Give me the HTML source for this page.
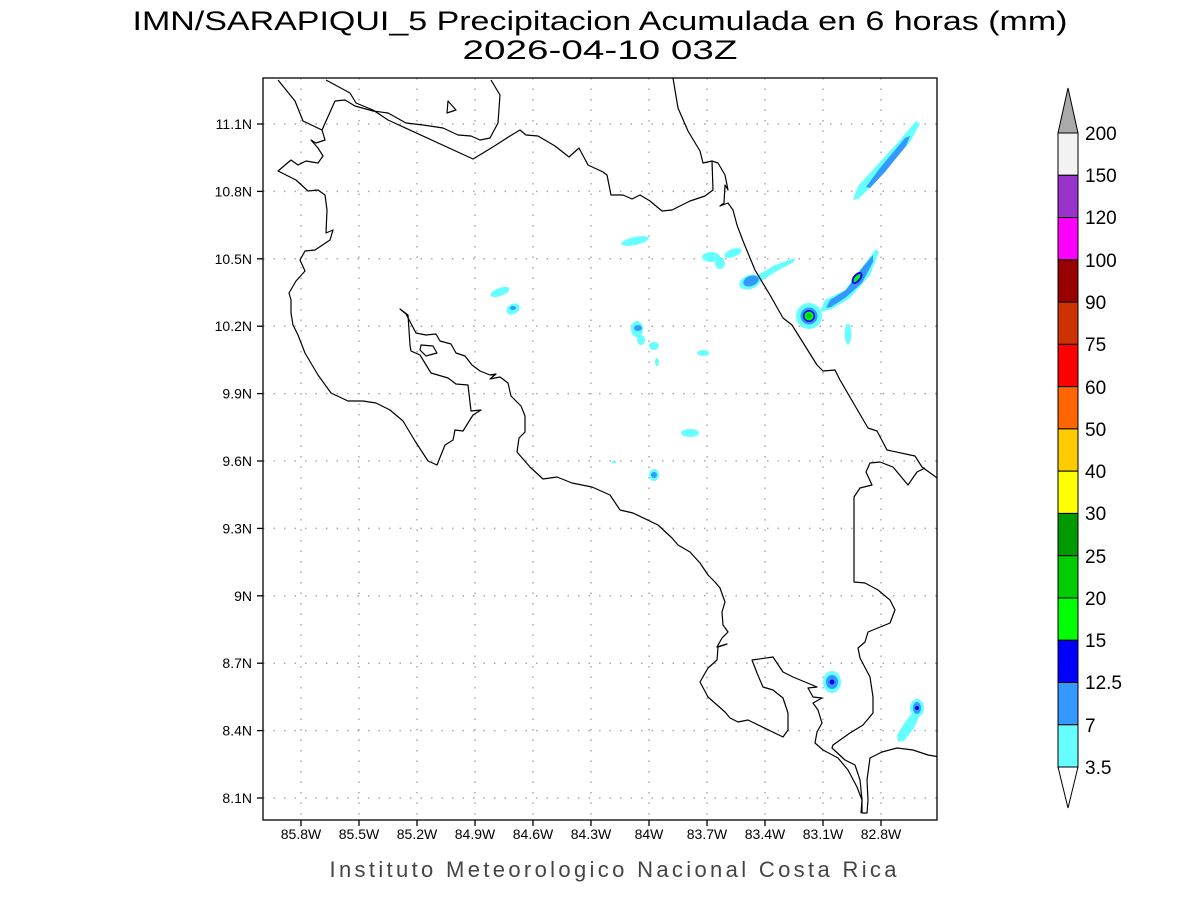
<!DOCTYPE html>
<html><head><meta charset="utf-8"><style>html,body{margin:0;padding:0;background:#fff}svg{display:block}</style></head>
<body>
<svg width="1200" height="900" viewBox="0 0 1200 900" xmlns="http://www.w3.org/2000/svg" font-family="Liberation Sans, sans-serif">
<rect width="1200" height="900" fill="#fff"/>
<text x="600" y="30" font-size="27" text-anchor="middle" textLength="935" lengthAdjust="spacingAndGlyphs" fill="#000">IMN/SARAPIQUI_5 Precipitacion Acumulada en 6 horas (mm)</text>
<text x="600" y="59" font-size="27" text-anchor="middle" textLength="275" lengthAdjust="spacingAndGlyphs" fill="#000">2026-04-10 03Z</text>
<defs><clipPath id="c"><rect x="263" y="78" width="674" height="742"/></clipPath></defs>
<g stroke="#aaa" stroke-width="1.5" stroke-dasharray="1.5,9" id="grid">
<line x1="301" y1="78" x2="301" y2="820"/><line x1="359" y1="78" x2="359" y2="820"/><line x1="417" y1="78" x2="417" y2="820"/><line x1="475" y1="78" x2="475" y2="820"/><line x1="533" y1="78" x2="533" y2="820"/><line x1="591" y1="78" x2="591" y2="820"/><line x1="649" y1="78" x2="649" y2="820"/><line x1="707" y1="78" x2="707" y2="820"/><line x1="765" y1="78" x2="765" y2="820"/><line x1="823" y1="78" x2="823" y2="820"/><line x1="881" y1="78" x2="881" y2="820"/>
<line x1="263" y1="124" x2="937" y2="124"/><line x1="263" y1="191.4" x2="937" y2="191.4"/><line x1="263" y1="258.8" x2="937" y2="258.8"/><line x1="263" y1="326.2" x2="937" y2="326.2"/><line x1="263" y1="393.6" x2="937" y2="393.6"/><line x1="263" y1="461" x2="937" y2="461"/><line x1="263" y1="528.4" x2="937" y2="528.4"/><line x1="263" y1="595.8" x2="937" y2="595.8"/><line x1="263" y1="663.2" x2="937" y2="663.2"/><line x1="263" y1="730.6" x2="937" y2="730.6"/><line x1="263" y1="798" x2="937" y2="798"/>
</g>
<g clip-path="url(#c)">
<!-- precipitation -->
<g fill="#66ffff">
<polygon points="853,200 858,186 900,140 916,121 920,124 910,142 870,188 858,199"/>
<polygon points="820,312 825,300 845,290 860,270 876,249 879,252 870,275 850,298 832,309"/>
<circle cx="809" cy="316" r="13"/>
<ellipse cx="848" cy="334" rx="3.5" ry="10"/>
<ellipse cx="635" cy="241" rx="14" ry="4" transform="rotate(-12 635 241)"/>
<ellipse cx="711" cy="257" rx="9" ry="5"/><ellipse cx="720" cy="263" rx="5" ry="6"/><ellipse cx="733" cy="253" rx="9" ry="4" transform="rotate(-20 733 253)"/>
<ellipse cx="750" cy="282" rx="11" ry="7" transform="rotate(-20 750 282)"/>
<polygon points="758,275 775,265 795,258 794,262 775,272 760,282"/>
<ellipse cx="637" cy="329" rx="6" ry="8"/><ellipse cx="641" cy="340" rx="4" ry="5"/>
<ellipse cx="654" cy="346" rx="5" ry="4"/><ellipse cx="657" cy="362" rx="2" ry="4"/>
<ellipse cx="703" cy="353" rx="6" ry="3"/><ellipse cx="690" cy="433" rx="9" ry="4"/>
<ellipse cx="500" cy="292" rx="10" ry="4" transform="rotate(-20 500 292)"/>
<ellipse cx="513" cy="309" rx="7" ry="5" transform="rotate(-30 513 309)"/>
<ellipse cx="654" cy="475" rx="5" ry="6"/><ellipse cx="614" cy="462" rx="2" ry="1.5"/>
<ellipse cx="832" cy="682" rx="9" ry="11"/>
<ellipse cx="917" cy="708" rx="7" ry="9"/>
<polygon points="898,742 897,735 905,722 913,712 920,715 914,728 904,741"/>
</g>
<g fill="#3399ff">
<polygon points="866,187 880,168 905,138 910,136 906,146 885,172 870,188"/>
<polygon points="826,308 830,300 846,290 862,268 873,255 873,262 862,283 845,298 831,307"/>
<circle cx="809" cy="316" r="8.5"/>
<ellipse cx="751" cy="281" rx="8" ry="5" transform="rotate(-20 751 281)"/>
<ellipse cx="638" cy="328" rx="4" ry="3"/><ellipse cx="513" cy="308" rx="3" ry="2"/>
<ellipse cx="654" cy="475" rx="3" ry="3"/>
<ellipse cx="832" cy="682" rx="6" ry="7"/><ellipse cx="917" cy="708" rx="4" ry="6"/>
</g>
<g fill="#00f"><ellipse cx="857" cy="278" rx="4" ry="7" transform="rotate(40 857 278)"/><circle cx="809" cy="316" r="6"/><circle cx="832" cy="682" r="2.5"/><circle cx="917" cy="708" r="2"/></g>
<g fill="#00ff00"><ellipse cx="857" cy="278" rx="2" ry="5" transform="rotate(40 857 278)"/><circle cx="809" cy="316" r="4.5"/></g>
<circle cx="809" cy="316" r="2.5" fill="#00cc00"/>
<!-- coastlines -->
<g fill="none" stroke="#000" stroke-width="1.2" stroke-linejoin="round">
<polyline points="278,80 295,101 303,121 322,130 335,101 345,100 355,106 373,111 388,113 406,123 423,125 443,128 458,135 471,136 480,140 490,138 498,123 500,95 491,80"/>
<polygon points="448,101 456,110 447,113"/>
<polyline points="326,80 350,93 356,103 373,110 388,120 473,159 483,153 496,145 510,136 520,130 526,135 538,136 555,146 569,157 579,148 588,165 603,172 607,175 611,195 623,195 632,199 640,195 650,201 662,211 672,210 690,201 705,196 713,190 712,161"/>
<polyline points="673,78 678,108 688,131 700,151 703,163 712,161 718,163 725,175 728,190 725,185 724,203 720,206 728,203 733,210 737,225 743,241 755,270 770,295 783,318 792,325 802,341 817,365 823,371 835,370 840,380 868,428 877,431 887,450 915,456 922,467 940,480"/>
<polyline points="925,468 917,472 908,485 893,467 880,462 870,463 866,472 872,485 860,488 854,497 854,582 865,583 878,590 890,600 895,610 890,623 868,632 865,642 858,648 860,658 870,677 873,697 873,713 863,725 850,733 833,745 832,748 845,760 855,765 860,780 862,800 862,813 867,813 868,800 867,780 870,758 882,752 897,748 913,750 928,755 940,757"/>
<polyline points="322,130 325,140 316,143 311,140 318,148 323,156 318,163 306,161 298,165 291,160 278,171 296,180 308,191 318,190 325,195 327,210 326,233 333,230 330,240 315,250 305,251 300,260 305,271 296,281 289,293 291,300 291,313 293,325 298,335 305,353 318,375 331,393 348,401 363,401 376,403 390,410 403,421 415,441 428,461 437,465 445,445 453,440 455,430 463,431 473,415 481,410 471,411 468,385 456,384 448,378 431,373 420,355 411,351 410,345 408,315 400,309 406,314 416,333 426,335 436,334 440,341 451,344 456,353 465,356 472,365 480,371 490,375 496,374 490,379 500,377 508,383 511,396 521,406 525,416 525,432 519,438 517,452 530,467 543,479 557,477 572,483 592,487 610,495 620,510 633,513 658,525 672,538 678,545 690,552 700,563 708,575 715,582 720,588 725,602 722,612 723,625 728,632 722,638 717,647 727,644 718,647 717,660 708,668 700,682 708,697 725,712 730,718 738,722 748,720 783,737 788,730 788,713 783,698 773,690 763,687 757,673 752,660 773,657 783,672 793,677 805,682 817,687 808,688 813,697 822,698 813,703 818,710 822,723 817,732 815,743 823,750 838,758 848,770 857,787 862,800 861,813"/>
<polygon points="421,345 433,346 437,353 426,356 420,350"/>
</g>
</g>
<rect x="263" y="78" width="674" height="742" fill="none" stroke="#000" stroke-width="1.3"/>
<g stroke="#000" stroke-width="1.3">
<line x1="257" y1="124" x2="263" y2="124"/><line x1="257" y1="191.4" x2="263" y2="191.4"/><line x1="257" y1="258.8" x2="263" y2="258.8"/><line x1="257" y1="326.2" x2="263" y2="326.2"/><line x1="257" y1="393.6" x2="263" y2="393.6"/><line x1="257" y1="461" x2="263" y2="461"/><line x1="257" y1="528.4" x2="263" y2="528.4"/><line x1="257" y1="595.8" x2="263" y2="595.8"/><line x1="257" y1="663.2" x2="263" y2="663.2"/><line x1="257" y1="730.6" x2="263" y2="730.6"/><line x1="257" y1="798" x2="263" y2="798"/>
<line x1="301" y1="820" x2="301" y2="826"/><line x1="359" y1="820" x2="359" y2="826"/><line x1="417" y1="820" x2="417" y2="826"/><line x1="475" y1="820" x2="475" y2="826"/><line x1="533" y1="820" x2="533" y2="826"/><line x1="591" y1="820" x2="591" y2="826"/><line x1="649" y1="820" x2="649" y2="826"/><line x1="707" y1="820" x2="707" y2="826"/><line x1="765" y1="820" x2="765" y2="826"/><line x1="823" y1="820" x2="823" y2="826"/><line x1="881" y1="820" x2="881" y2="826"/>
</g>
<g font-size="14" text-anchor="end" fill="#000">
<text x="252" y="129">11.1N</text><text x="252" y="196.4">10.8N</text><text x="252" y="263.8">10.5N</text><text x="252" y="331.2">10.2N</text><text x="252" y="398.6">9.9N</text><text x="252" y="466">9.6N</text><text x="252" y="533.4">9.3N</text><text x="252" y="600.8">9N</text><text x="252" y="668.2">8.7N</text><text x="252" y="735.6">8.4N</text><text x="252" y="803">8.1N</text>
</g>
<g font-size="14" text-anchor="middle" fill="#000">
<text x="301" y="839">85.8W</text><text x="359" y="839">85.5W</text><text x="417" y="839">85.2W</text><text x="475" y="839">84.9W</text><text x="533" y="839">84.6W</text><text x="591" y="839">84.3W</text><text x="649" y="839">84W</text><text x="707" y="839">83.7W</text><text x="765" y="839">83.4W</text><text x="823" y="839">83.1W</text><text x="881" y="839">82.8W</text>
</g>
<text x="613" y="877" font-size="22" text-anchor="middle" textLength="567" lengthAdjust="spacing" fill="#444">Instituto Meteorologico Nacional Costa Rica</text>
<!-- colorbar -->
<g stroke="#000" stroke-width="1">
<polygon points="1058,133 1068,88 1078,133" fill="#aaaaaa"/>
<rect x="1058" y="133" width="20" height="42.27" fill="#f2f2f2"/>
<rect x="1058" y="175.27" width="20" height="42.27" fill="#9933cc"/>
<rect x="1058" y="217.54" width="20" height="42.27" fill="#ff00ff"/>
<rect x="1058" y="259.81" width="20" height="42.27" fill="#990000"/>
<rect x="1058" y="302.08" width="20" height="42.27" fill="#cc3300"/>
<rect x="1058" y="344.35" width="20" height="42.27" fill="#ff0000"/>
<rect x="1058" y="386.62" width="20" height="42.27" fill="#ff6600"/>
<rect x="1058" y="428.89" width="20" height="42.27" fill="#ffcc00"/>
<rect x="1058" y="471.16" width="20" height="42.27" fill="#ffff00"/>
<rect x="1058" y="513.43" width="20" height="42.27" fill="#009900"/>
<rect x="1058" y="555.7" width="20" height="42.27" fill="#00cc00"/>
<rect x="1058" y="597.97" width="20" height="42.27" fill="#00ff00"/>
<rect x="1058" y="640.24" width="20" height="42.27" fill="#0000ff"/>
<rect x="1058" y="682.51" width="20" height="42.27" fill="#3399ff"/>
<rect x="1058" y="724.78" width="20" height="42.27" fill="#66ffff"/>
<polygon points="1058,767 1068,808 1078,767" fill="#fff"/>
</g>
<g font-size="19" fill="#000">
<text x="1085" y="140">200</text><text x="1085" y="182">150</text><text x="1085" y="224">120</text><text x="1085" y="267">100</text><text x="1085" y="309">90</text><text x="1085" y="351">75</text><text x="1085" y="394">60</text><text x="1085" y="436">50</text><text x="1085" y="478">40</text><text x="1085" y="520">30</text><text x="1085" y="563">25</text><text x="1085" y="605">20</text><text x="1085" y="647">15</text><text x="1085" y="689">12.5</text><text x="1085" y="732">7</text><text x="1085" y="774">3.5</text>
</g>
</svg>
</body></html>
